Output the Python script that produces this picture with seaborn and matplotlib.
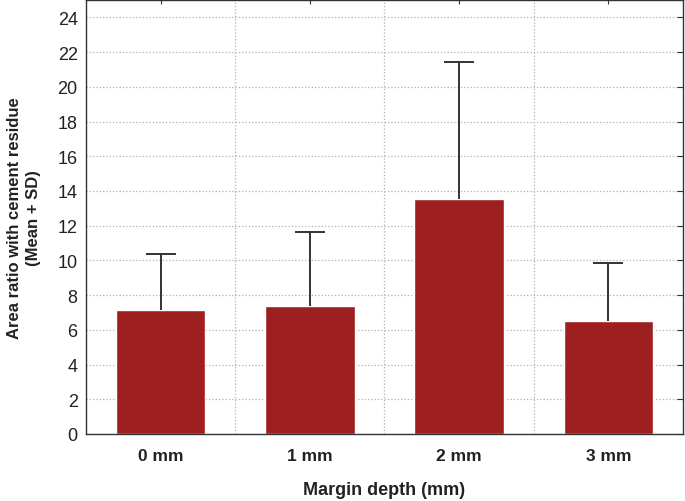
import numpy as np
import pandas as pd
import matplotlib
matplotlib.use("Agg")
import matplotlib.pyplot as plt
from matplotlib.ticker import MultipleLocator, FixedLocator
import seaborn as sns

# values
depths = ["0 mm", "1 mm", "2 mm", "3 mm"]
means = [7.13, 7.35, 13.52, 6.52]
upper = [10.35, 11.62, 21.4, 9.87]
sd = [u - m for u, m in zip(upper, means)]

df = pd.DataFrame({"depth": depths, "mean": means, "sd": sd})

sns.set_style("white")
plt.rcParams["font.family"] = ["Liberation Sans", "DejaVu Sans"]

fig = plt.figure(figsize=(6.85, 5.02), dpi=100)
ax = fig.add_axes([0.1255, 0.1335, 0.8715, 0.8645])

sns.barplot(data=df, x="depth", y="mean", color="#9e1f20", width=0.6,
            errorbar=None, saturation=1, ax=ax, zorder=2)
# mean + SD only: hide the lower cap
eb = ax.errorbar(np.arange(len(depths)), df["mean"],
                 yerr=[np.zeros(len(depths)), df["sd"]],
                 fmt="none", ecolor="#333333", elinewidth=1.4, capsize=11,
                 capthick=1.4, zorder=3)
eb[1][0].set_visible(False)

ax.set_xlim(-0.5, 3.5)
ax.set_ylim(0, 25)
ax.yaxis.set_major_locator(MultipleLocator(2))
ax.xaxis.set_minor_locator(FixedLocator([0.5, 1.5, 2.5]))

ax.grid(True, axis="y", which="major", linestyle=":", color="#b0b0b0", linewidth=0.9, zorder=0)
ax.grid(True, axis="x", which="minor", linestyle=":", color="#b0b0b0", linewidth=0.9, zorder=0)
ax.set_axisbelow(True)

for s in ax.spines.values():
    s.set_color("#333333")
    s.set_linewidth(1.0)

ax.tick_params(axis="y", which="major", direction="in", right=True, length=4,
               labelsize=13, color="#333333", labelcolor="#222222", pad=6)
ax.tick_params(axis="x", which="major", direction="in", top=True, length=3,
               labelsize=12.5, color="#333333", labelcolor="#222222", pad=10)
ax.tick_params(axis="x", which="minor", length=0)
for lab in ax.get_xticklabels():
    lab.set_fontweight("bold")

ax.set_xlabel("Margin depth (mm)", fontsize=13, fontweight="bold", labelpad=13,
              color="#222222")
ax.set_ylabel("Area ratio with cement residue\n(Mean + SD)", fontsize=12,
              fontweight="bold", labelpad=12, linespacing=1.35, color="#222222")

fig.savefig("out.png", dpi=100)
